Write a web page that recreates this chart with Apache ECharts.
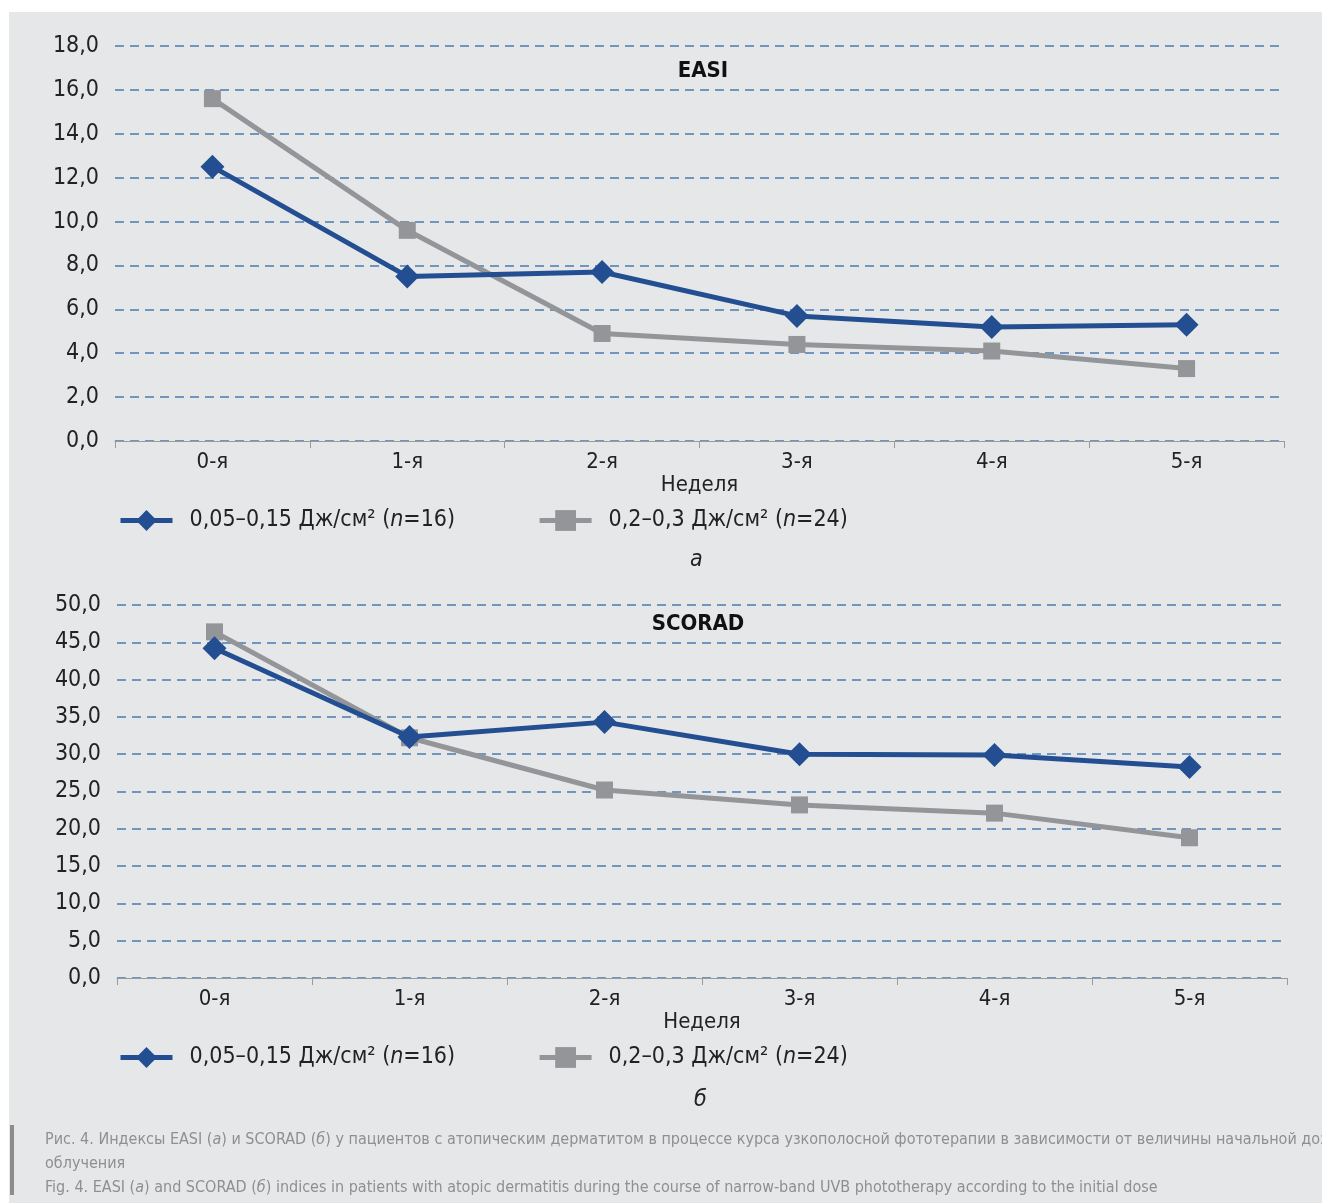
<!DOCTYPE html>
<html>
<head>
<meta charset="utf-8">
<script src="https://cdn.jsdelivr.net/npm/echarts@6/dist/echarts.min.js"></script>
<style>
  html, body { margin: 0; padding: 0; background: #fff; }
  #chart { width: 1322px; height: 1203px; }
</style>
</head>
<body>
<div id="chart"></div>
<script>
// категории по неделям
var weeks = ["0-я", "1-я", "2-я", "3-я", "4-я", "5-я"];
var seriesNames = ["0,05–0,15 Дж/см² (n=16)", "0,2–0,3 Дж/см² (n=24)"];

// EASI
var easiLow = [12.5, 7.5, 7.7, 5.7, 5.2, 5.3];
var easiHigh = [15.6, 9.6, 4.9, 4.4, 4.1, 3.3];

// SCORAD
var scoradLow = [44.2, 32.3, 34.3, 30.0, 29.9, 28.3];
var scoradHigh = [46.4, 32.2, 25.2, 23.2, 22.1, 18.8];

var FONT = '"Liberation Sans Narrow", "DejaVu Sans Condensed", "Roboto", sans-serif';
var BLUE = "#234f92";
var GREY = "#949598";

function fmt(v) {
  return v.toFixed(1).replace(".", ",");
}

function xAxisCfg(idx) {
  return {
    type: "category",
    gridIndex: idx,
    data: weeks,
    boundaryGap: true,
    name: "Неделя",
    nameLocation: "middle",
    nameGap: 30,
    nameTextStyle: { fontFamily: FONT, fontSize: 22, color: "#222" },
    axisLine: { show: true, lineStyle: { color: "#9a9a9a", width: 1 } },
    axisTick: { show: true, alignWithLabel: false, interval: 0, length: 7, lineStyle: { color: "#9a9a9a", width: 1 } },
    axisLabel: { fontFamily: FONT, fontSize: 22, color: "#222", margin: 10 }
  };
}

function yAxisCfg(idx, max, step) {
  return {
    type: "value",
    gridIndex: idx,
    min: 0,
    max: max,
    interval: step,
    axisLine: { show: false },
    axisTick: { show: false },
    axisLabel: { fontFamily: FONT, fontSize: 23, color: "#222", margin: 16, formatter: fmt },
    splitLine: { lineStyle: { color: "#4a7bb0", width: 1.5, type: [9, 6] } }
  };
}

function lineSeries(name, idx, data, color, symbol, size) {
  return {
    name: name,
    type: "line",
    xAxisIndex: idx,
    yAxisIndex: idx,
    data: data,
    symbol: symbol,
    symbolSize: size,
    lineStyle: { color: color, width: 5 },
    itemStyle: { color: color },
    z: symbol === "diamond" ? 3 : 2
  };
}

function legendCfg(top) {
  return {
    left: 113,
    top: top,
    itemWidth: 52,
    itemHeight: 26,
    itemGap: 82,
    data: seriesNames,
    lineStyle: { width: 5 },
    textStyle: {
      fontFamily: FONT, fontSize: 23, color: "#222", padding: [0, 0, 0, 12],
      rich: { i: { fontFamily: FONT, fontSize: 23, fontStyle: "italic", color: "#222" } }
    },
    formatter: function (name) {
      return name.replace("(n=", "({i|n}=");
    }
  };
}

var chart = echarts.init(document.getElementById("chart"));

var option = {
  backgroundColor: "#ffffff",
  animation: false,
  title: [
    { text: "EASI", left: 698, top: 55, textAlign: "center",
      textStyle: { fontFamily: FONT, fontSize: 22, fontWeight: "bold", color: "#111" } },
    { text: "SCORAD", left: 693, top: 608, textAlign: "center",
      textStyle: { fontFamily: FONT, fontSize: 22, fontWeight: "bold", color: "#111" } }
  ],
  legend: [legendCfg(504), legendCfg(1041)],
  grid: [
    { left: 115, right: 38, top: 46, height: 395 },
    { left: 117, right: 35, top: 605, height: 373 }
  ],
  xAxis: [xAxisCfg(0), xAxisCfg(1)],
  yAxis: [yAxisCfg(0, 18, 2), yAxisCfg(1, 50, 5)],
  series: [
    lineSeries(seriesNames[0], 0, easiLow, BLUE, "diamond", 24),
    lineSeries(seriesNames[1], 0, easiHigh, GREY, "rect", 17),
    lineSeries(seriesNames[0], 1, scoradLow, BLUE, "diamond", 24),
    lineSeries(seriesNames[1], 1, scoradHigh, GREY, "rect", 17)
  ],
  graphic: [
    { type: "rect", z: -10, silent: true, shape: { x: 9, y: 12, width: 1313, height: 1191 },
      style: { fill: "#e6e7e9" } },
    { type: "text", left: 690, top: 549, style: { text: "а", fontFamily: FONT, fontSize: 23, fontStyle: "italic", fill: "#222" } },
    { type: "text", left: 694, top: 1089, style: { text: "б", fontFamily: FONT, fontSize: 23, fontStyle: "italic", fill: "#222" } },
    { type: "rect", silent: true, shape: { x: 10, y: 1125, width: 4, height: 70 }, style: { fill: "#8c8c8c" } },
    { type: "text", left: 45, top: 1128, style: {
        text: "Рис. 4. Индексы EASI ({i|а}) и SCORAD ({i|б}) у пациентов с атопическим дерматитом в процессе курса узкополосной фототерапии в зависимости от величины начальной дозы\nоблучения\nFig. 4. EASI ({i|a}) and SCORAD ({i|б}) indices in patients with atopic dermatitis during the course of narrow-band UVB phototherapy according to the initial dose",
        fontFamily: FONT, fontSize: 16, lineHeight: 24, fill: "#8f8f8f",
        rich: { i: { fontFamily: FONT, fontSize: 16, fontStyle: "italic", fill: "#8f8f8f" } }
      } }
  ]
};

chart.setOption(option);
</script>
</body>
</html>
